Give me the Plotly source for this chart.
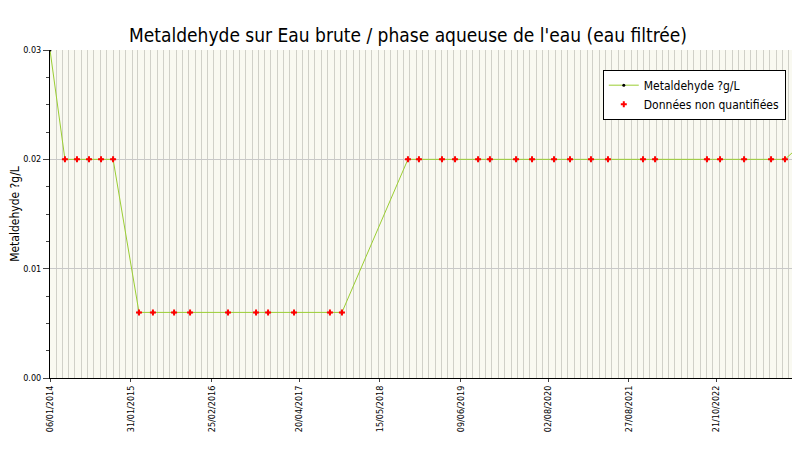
import plotly.graph_objects as go

dates = ["2014-01-06", "2014-03-19", "2014-05-16", "2014-07-13", "2014-09-09", "2014-11-06",
         "2015-03-11", "2015-05-17", "2015-08-27", "2015-11-12", "2016-05-13", "2016-09-25",
         "2016-11-22", "2017-03-27", "2017-09-16", "2017-11-13", "2018-09-27", "2018-11-19",
         "2019-03-10", "2019-05-12", "2019-08-31", "2019-10-27", "2020-03-01", "2020-05-17",
         "2020-08-31", "2020-11-16", "2021-02-25", "2021-05-18", "2021-11-03", "2021-12-31",
         "2022-09-07", "2022-11-09", "2023-03-05", "2023-07-13", "2023-09-18", "2023-11-15"]
values = [0.03, 0.02, 0.02, 0.02, 0.02, 0.02,
          0.006, 0.006, 0.006, 0.006, 0.006, 0.006,
          0.006, 0.006, 0.006, 0.006, 0.02, 0.02,
          0.02, 0.02, 0.02, 0.02, 0.02, 0.02,
          0.02, 0.02, 0.02, 0.02, 0.02, 0.02,
          0.02, 0.02, 0.02, 0.02, 0.02, 0.021]
# points below the quantification limit (all but first and last)
nq_dates = dates[1:-1]
nq_values = values[1:-1]

tick_dates = ["2014-01-06", "2015-01-31", "2016-02-25", "2017-04-20", "2018-05-15",
              "2019-06-09", "2020-08-02", "2021-08-27", "2022-10-21", "2023-11-15"]
tick_labels = ["06/01/2014", "31/01/2015", "25/02/2016", "20/04/2017", "15/05/2018",
               "09/06/2019", "02/08/2020", "27/08/2021", "21/10/2022", "15/11/2023"]

fig = go.Figure()
fig.add_trace(go.Scatter(x=dates, y=values, mode="lines+markers", name="Metaldehyde ?g/L",
                         line=dict(color="#9acd32", width=1),
                         marker=dict(color="black", size=3)))
fig.add_trace(go.Scatter(x=nq_dates, y=nq_values, mode="markers", name="Données non quantifiées",
                         marker=dict(color="red", size=5, symbol="cross")))

fig.update_layout(
    width=800, height=450, template="plotly_white",
    paper_bgcolor="white", plot_bgcolor="#f9f9f1",
    font=dict(family="DejaVu Sans Condensed, DejaVu Sans", size=9, color="black"),
    title=dict(text="Metaldehyde sur Eau brute / phase aqueuse de l'eau (eau filtrée)",
               x=0.5, xanchor="center", y=0.955, font=dict(size=19)),
    margin=dict(l=42, r=11, t=42, b=80, autoexpand=False),
    showlegend=True,
    legend=dict(x=0.985, y=0.94, xanchor="right", yanchor="top", bgcolor="white",
                bordercolor="black", borderwidth=1, font=dict(size=12)),
)
fig.update_xaxes(range=["2014-01-06", "2023-11-15"], tickvals=tick_dates, ticktext=tick_labels,
                 tickangle=-90, showgrid=False, ticks="outside", ticklen=3, showline=True,
                 linecolor="black", automargin=False,
                 minor=dict(dtick="M1", tick0="2014-01-06", showgrid=True, gridcolor="#d0d0c8", gridwidth=1))
fig.update_yaxes(range=[0, 0.03], tickvals=[0, 0.01, 0.02, 0.03],
                 ticktext=["0.00", "0.01", "0.02", "0.03"], title="Metaldehyde ?g/L",
                 title_font=dict(size=12), title_standoff=8, automargin=False,
                 showgrid=True, gridcolor="#c8c8c8",
                 ticks="outside", ticklen=6, showline=True, linecolor="black", zeroline=False,
                 minor=dict(dtick=0.0025, ticks="outside", ticklen=3, showgrid=False))
fig.write_html("out.html")
